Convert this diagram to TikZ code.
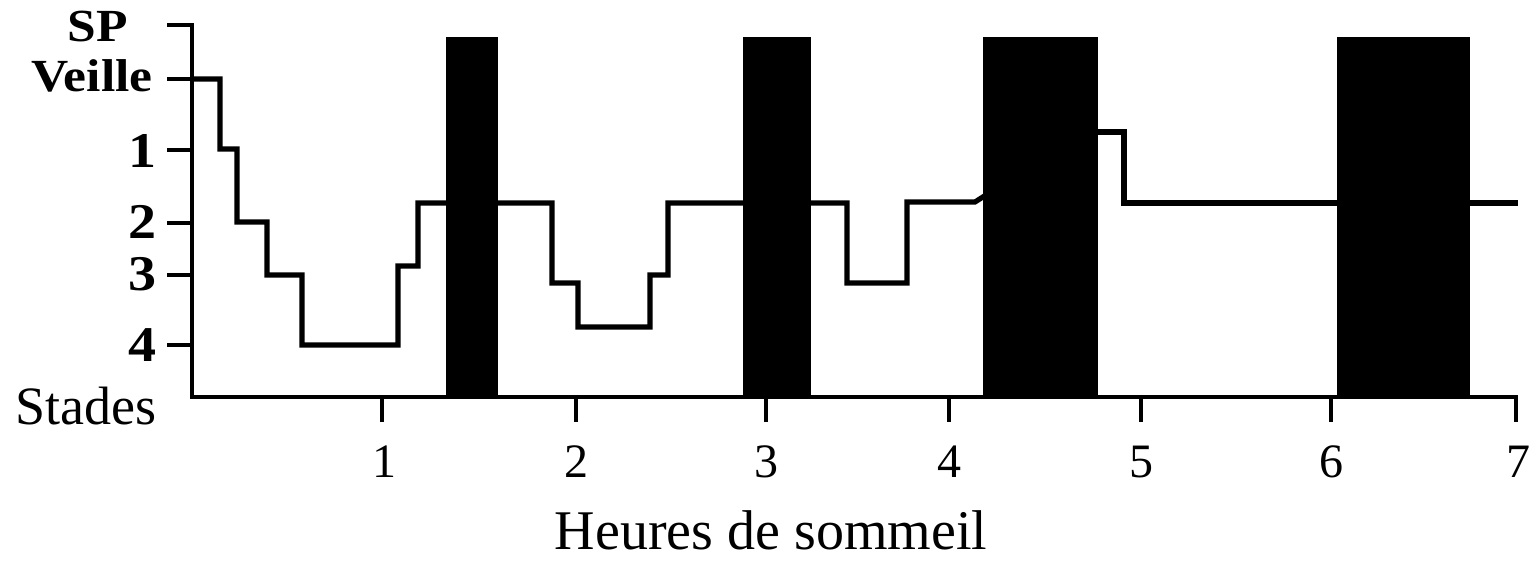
\documentclass[tikz,border=0pt]{standalone}
\usepackage{fontspec}
\setmainfont{Liberation Serif}
\begin{document}
\begin{tikzpicture}[x=0.5pt,y=-0.5pt,
  axisline/.style={line width=1.8pt,line join=miter},
  hypno/.style={line width=2.6pt,line join=miter},
  sleepbar/.style={fill=black,draw=none},
  ylab/.style={font=\bfseries\fontsize{23}{23}\selectfont,anchor=base east,inner sep=0pt,xscale=1.12},
  xlab/.style={font=\fontsize{24}{24}\selectfont,anchor=base,inner sep=0pt},
  title/.style={font=\fontsize{28}{28}\selectfont,inner sep=0pt}]
\useasboundingbox (0,0) rectangle (1536,565);
% axes
\draw[axisline] (167,25) -- (192,25) -- (192,397) -- (1516,397) -- (1516,422);
\foreach \yy in {79,150,223,275,345} \draw[axisline] (167,\yy) -- (192,\yy);
\foreach \xx in {382,576,766,949,1141,1331} \draw[axisline] (\xx,397) -- (\xx,422);
% hypnogram
\draw[hypno] (192,79) -- (220,79) -- (220,149) -- (237,149) -- (237,222) -- (267,222)
  -- (267,275) -- (302,275) -- (302,345) -- (398,345) -- (398,266) -- (418,266)
  -- (418,203) -- (552,203) -- (552,283) -- (578,283) -- (578,327) -- (650,327)
  -- (650,275) -- (668,275) -- (668,203) -- (847,203) -- (847,283) -- (907,283)
  -- (907,202) -- (975,202) -- (986,195);
\draw[hypno] (1090,132) -- (1124,132) -- (1124,203) -- (1518,203);
% REM bars
\fill[sleepbar] (446,37) rectangle (498,398);
\fill[sleepbar] (743,37) rectangle (811,398);
\fill[sleepbar] (983,37) rectangle (1098,398);
\fill[sleepbar] (1337,37) rectangle (1470,398);
% y labels
\node[ylab] (sp) at (128,42) {SP};
\node[ylab] (veille) at (153,92) {Veille};
\node[ylab,font=\bfseries\fontsize{25}{25}\selectfont] (s1) at (157,168) {1};
\node[ylab,font=\bfseries\fontsize{25}{25}\selectfont] (s2) at (157,239) {2};
\node[ylab,font=\bfseries\fontsize{25}{25}\selectfont] (s3) at (157,291) {3};
\node[ylab,font=\bfseries\fontsize{25}{25}\selectfont] (s4) at (157,362) {4};
\node[font=\fontsize{27}{27}\selectfont,anchor=base west,inner sep=0pt] (stades) at (15,425) {Stades};
% x labels
\node[xlab] (h1) at (384,478) {1};
\node[xlab] (h2) at (576,478) {2};
\node[xlab] (h3) at (766,478) {3};
\node[xlab] (h4) at (949,478) {4};
\node[xlab] (h5) at (1141,478) {5};
\node[xlab] (h6) at (1331,478) {6};
\node[xlab] (h7) at (1518,478) {7};
\node[title,anchor=base] (heures) at (771,550) {Heures de sommeil};
\end{tikzpicture}
\end{document}
